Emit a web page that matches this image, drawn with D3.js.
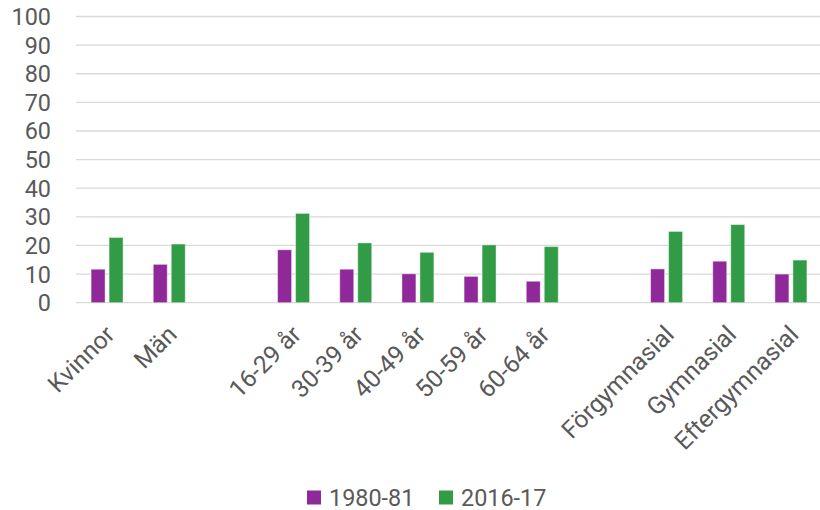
<!DOCTYPE html>
<html lang="sv">
<head>
    <meta charset="UTF-8">
    <title>Andel per grupp</title>
    <script src="https://d3js.org/d3.v7.min.js"></script>
    <style>
        body { margin: 0; background: #fff; }
        text { font-family: Roboto, "Noto Sans", sans-serif; fill: #595959; }
        .grid line { stroke: #d9d9d9; stroke-width: 1.3; }
    </style>
</head>
<body>
<script>
// categories (empty strings are the gaps between groups)
var categories = ["Kvinnor", "Män", "", "16-29 år", "30-39 år", "40-49 år", "50-59 år", "60-64 år", "", "Förgymnasial", "Gymnasial", "Eftergymnasial"];
var seriesNames = ["1980-81", "2016-17"];
var values1980 = [11.7, 13.4, null, 18.5, 11.7, 10.1, 9.2, 7.5, null, 11.8, 14.5, 10.0];
var values2016 = [22.8, 20.5, null, 31.2, 20.9, 17.6, 20.2, 19.6, null, 24.9, 27.3, 14.9];
var yTicks = [0, 10, 20, 30, 40, 50, 60, 70, 80, 90, 100];
var colors = ["#8f2898", "#329b46"];

var width = 820, height = 510;
var plotLeft = 76, plotRight = 822, plotTop = 16.5, plotBottom = 302.7;

var svg = d3.select("body").append("svg")
    .attr("width", width)
    .attr("height", height);

var x0 = d3.scaleBand()
    .domain(d3.range(categories.length))
    .range([plotLeft, plotRight])
    .padding(0);

var pairW = 32;
var x1 = d3.scaleBand()
    .domain(seriesNames)
    .range([(x0.bandwidth() - pairW) / 2, (x0.bandwidth() + pairW) / 2])
    .paddingInner(0.222);

var y = d3.scaleLinear().domain([0, 100]).range([plotBottom, plotTop]);

// gridlines
svg.append("g")
    .attr("class", "grid")
    .selectAll("line")
    .data(yTicks)
    .enter().append("line")
    .attr("x1", plotLeft)
    .attr("x2", width)
    .attr("y1", function(d) { return y(d); })
    .attr("y2", function(d) { return y(d); });

// y tick labels
svg.append("g")
    .selectAll("text")
    .data(yTicks)
    .enter().append("text")
    .attr("x", 51)
    .attr("y", function(d) { return y(d); })
    .attr("dy", "0.36em")
    .attr("text-anchor", "end")
    .style("font-size", "23.4px")
    .text(function(d) { return d; });

// bars
var rows = categories.map(function(c, i) {
    return { i: i, vals: [values1980[i], values2016[i]] };
});

var groups = svg.append("g")
    .selectAll("g")
    .data(rows)
    .enter().append("g")
    .attr("transform", function(d) { return "translate(" + x0(d.i) + ",0)"; });

groups.selectAll("rect")
    .data(function(d) {
        return d.vals.map(function(v, k) { return { s: seriesNames[k], v: v, k: k }; })
            .filter(function(e) { return e.v != null; });
    })
    .enter().append("rect")
    .attr("x", function(d) { return x1(d.s); })
    .attr("width", x1.bandwidth())
    .attr("y", function(d) { return y(d.v); })
    .attr("height", function(d) { return y(0) - y(d.v); })
    .attr("fill", function(d) { return colors[d.k]; })
    .attr("stroke", "#fff")
    .attr("stroke-opacity", 0.45)
    .attr("stroke-width", 1);

// category labels
svg.append("g")
    .selectAll("text")
    .data(categories)
    .enter().append("text")
    .attr("transform", function(d, i) {
        return "translate(" + (x0(i) + x0.bandwidth() / 2 + 9) + "," + 336 + ") rotate(-45)";
    })
    .attr("text-anchor", "end")
    .style("font-size", "24.5px")
    .text(function(d) { return d; });

// legend
var legendX = [307, 439];
var legend = svg.append("g")
    .selectAll("g")
    .data(seriesNames)
    .enter().append("g")
    .attr("transform", function(d, i) { return "translate(" + legendX[i] + ",0)"; });

legend.append("rect")
    .attr("x", 0)
    .attr("y", 490.5)
    .attr("width", 14)
    .attr("height", 14)
    .attr("fill", function(d, i) { return colors[i]; });

legend.append("text")
    .attr("x", 22)
    .attr("y", 506)
    .style("font-size", "23.4px")
    .text(function(d) { return d; });
</script>
</body>
</html>
